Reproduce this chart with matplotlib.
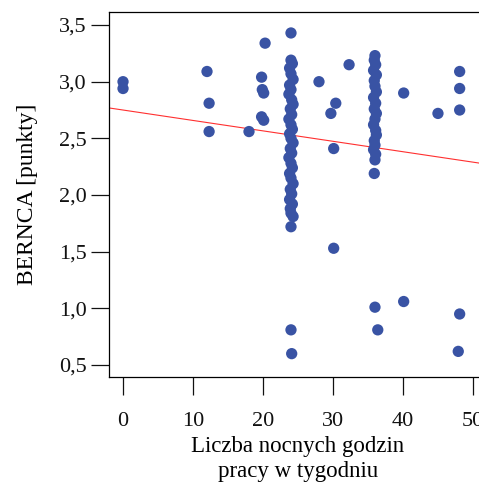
import matplotlib.pyplot as plt
import numpy as np
from matplotlib.ticker import FuncFormatter

# night work hours per week vs BERNCA score
hours_single = [0, 0, 12, 12.3, 12.3, 18,
                20.3, 19.8, 19.9, 20.1, 19.8, 20.1,
                24, 24, 24.1,
                28, 30.4, 29.7, 30.1, 30.1, 32.3,
                36, 36.4, 40.1, 40.1, 45,
                48.1, 48.1, 48.1, 48.1, 47.9]
bernca_single = [3.00, 2.94, 3.09, 2.81, 2.56, 2.56,
                 3.34, 3.04, 2.93, 2.90, 2.69, 2.66,
                 3.43, 0.81, 0.60,
                 3.00, 2.81, 2.72, 2.41, 1.53, 3.15,
                 1.01, 0.81, 2.90, 1.06, 2.72,
                 3.09, 2.94, 2.75, 0.95, 0.62]

# dense column at 24 h
col24_x = [24.0, 24.2, 23.8, 24.0, 24.3, 23.8, 24.0, 23.7, 24.1, 24.3,
           23.9, 24.1, 23.7, 24.0, 24.2, 23.8, 24.0, 24.3, 23.9, 24.1,
           23.7, 24.0, 24.2, 23.8, 24.0, 24.3, 23.9, 24.1, 23.8, 24.2,
           23.9, 24.0, 24.3, 24.0]
col24_y = [3.19, 3.16, 3.12, 3.07, 3.02, 2.97, 2.93, 2.89, 2.84, 2.80,
           2.76, 2.71, 2.67, 2.62, 2.58, 2.54, 2.50, 2.46, 2.41, 2.37,
           2.33, 2.28, 2.24, 2.19, 2.15, 2.10, 2.05, 2.01, 1.96, 1.92,
           1.88, 1.84, 1.81, 1.72]

# dense column at 36 h
col36_x = [36.0, 35.9, 36.1, 35.8, 36.2, 35.9, 36.0, 36.2, 35.8, 36.1,
           35.9, 36.2, 36.0, 35.8, 36.1, 36.2, 35.9, 36.0, 35.8, 36.1,
           36.0, 35.9]
col36_y = [3.23, 3.19, 3.15, 3.10, 3.06, 3.01, 2.96, 2.91, 2.86, 2.81,
           2.76, 2.72, 2.67, 2.62, 2.57, 2.53, 2.48, 2.44, 2.40, 2.36,
           2.31, 2.19]

# fitted line: bernca = intercept + slope * hours
fit_intercept = 2.75
fit_slope = -0.0092

x_ticks = [0, 10, 20, 30, 40, 50]
y_ticks = [0.5, 1.0, 1.5, 2.0, 2.5, 3.0, 3.5]

plt.rcParams['font.family'] = ['Liberation Serif', 'DejaVu Serif']

fig = plt.figure(figsize=(4.79, 4.86), dpi=100)
ax = fig.add_axes([0.2276, 0.2243, 0.789, 0.751])

dot_color = '#3953a4'
x_all = hours_single + col24_x + col36_x
y_all = bernca_single + col24_y + col36_y
ax.scatter(x_all, y_all, s=66, color=dot_color, edgecolors='none', zorder=3)

xlim = (-2, 52)
line_x = np.array(xlim)
ax.plot(line_x, fit_intercept + fit_slope * line_x, color='#ff3030',
        linewidth=0.8, zorder=2)

ax.set_xlim(*xlim)
ax.set_ylim(0.394, 3.615)
ax.set_xticks(x_ticks)
ax.set_yticks(y_ticks)
ax.yaxis.set_major_formatter(FuncFormatter(lambda v, p: f'{v:.1f}'.replace('.', ',')))

ax.tick_params(axis='both', direction='out', length=13, width=0.9,
               labelsize=16, colors='#111111')
ax.tick_params(axis='x', pad=12)
ax.tick_params(axis='y', pad=3)
for s in ax.spines.values():
    s.set_linewidth(0.9)

ax.set_xlabel('Liczba nocnych godzin\npracy w tygodniu', fontsize=16.5,
              labelpad=4, linespacing=1.25)
ax.set_ylabel('BERNCA [punkty]', fontsize=17, labelpad=15)

fig.savefig('out.png', dpi=100)
